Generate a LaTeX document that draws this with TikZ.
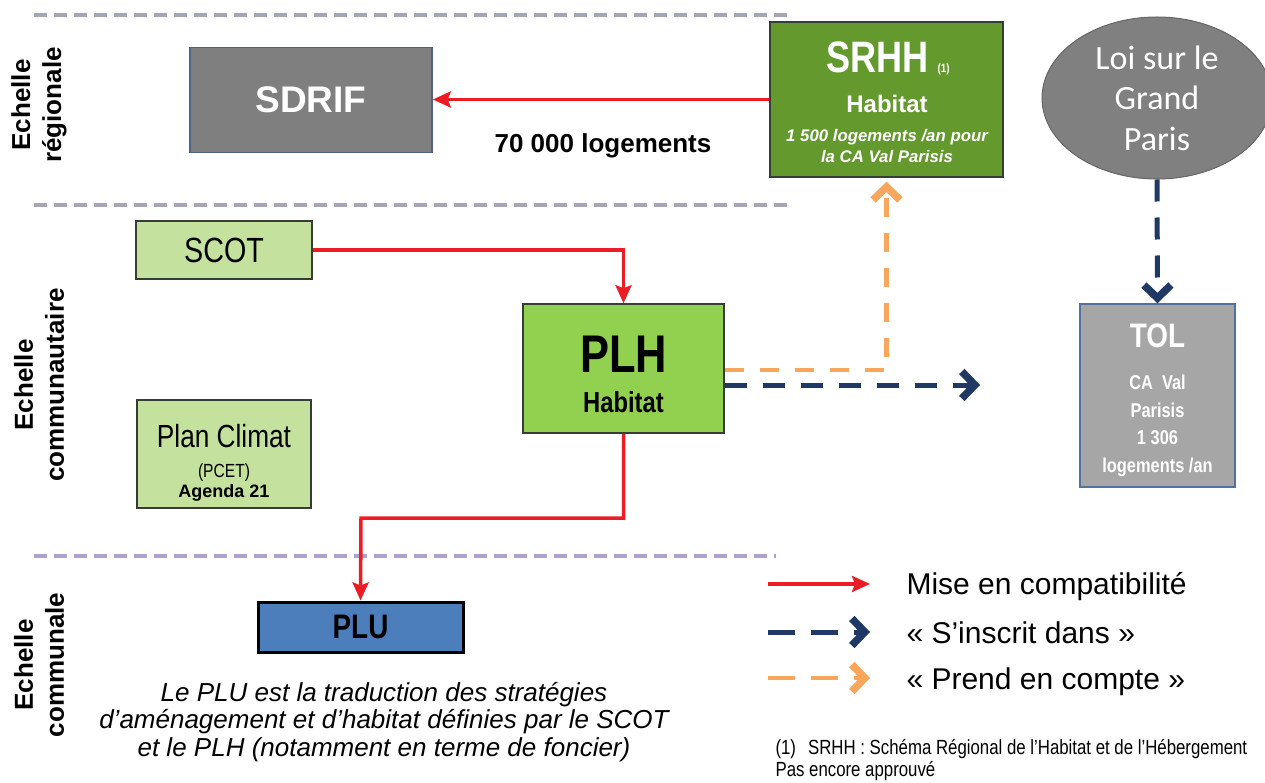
\documentclass[tikz,border=0pt]{standalone}
\usepackage{fontspec}
\setmainfont{Liberation Sans}
\newfontfamily\narrowsf{Liberation Sans}[FakeStretch=0.82]
\newfontfamily\calibrisf{Carlito}
\usepackage{xcolor}
\usetikzlibrary{arrows.meta,positioning,shapes.geometric}

\definecolor{sepgray}{RGB}{165,165,182}
\definecolor{seppurple}{RGB}{172,162,205}
\definecolor{sdrifgray}{RGB}{127,127,127}
\definecolor{sdrifline}{RGB}{82,98,130}
\definecolor{srhhgreen}{RGB}{99,153,45}
\definecolor{loigray}{RGB}{128,128,128}
\definecolor{tolgray}{RGB}{166,166,166}
\definecolor{tolline}{RGB}{82,112,160}
\definecolor{lightgreen}{RGB}{196,225,158}
\definecolor{plhgreen}{RGB}{146,208,80}
\definecolor{plublue}{RGB}{76,126,187}
\definecolor{boxline}{RGB}{55,60,55}
\definecolor{redarr}{RGB}{236,28,36}
\definecolor{navyarr}{RGB}{31,56,100}
\definecolor{orangearr}{RGB}{248,166,92}

\newcommand{\fsz}[1]{\fontsize{#1}{#1}\selectfont}

\begin{document}
\begin{tikzpicture}[
    x=1pt, y=-1pt,
    box/.style={draw=boxline, line width=1.5pt, inner sep=0pt, align=center},
    septline/.style={line width=3.5pt, dash pattern=on 13pt off 7pt},
    scalelbl/.style={rotate=90, align=center,
                     font=\bfseries\fontsize{26}{31}\selectfont},
    compat/.style={-{Stealth[length=18pt, width=16pt, inset=3pt]},
                   draw=redarr, line width=3.5pt},
    inscrit/.style={-{Straight Barb[length=13pt, width=27pt, line width=7.5pt]},
                    draw=navyarr, line width=5pt, dash pattern=on 22pt off 16pt},
    compte/.style={-{Straight Barb[length=13pt, width=27pt, line width=7.5pt]},
                   draw=orangearr, line width=4.5pt, dash pattern=on 19pt off 16pt},
]
\useasboundingbox (0,0) rectangle (1265,783);

%% ── Level separators ─────────────────────────────────────────────────────
\draw[septline, sepgray]   (34,15)  -- (790,15);
\draw[septline, sepgray]   (34,205) -- (790,205);
\draw[septline, seppurple] (34,556) -- (776,556);

%% ── Level labels ─────────────────────────────────────────────────────────
\node[scalelbl] (lvlreg) at (39,105) {Echelle\\régionale};
\node[scalelbl] (lvlcom) at (39,385) {Echelle\\communautaire};
\node[scalelbl] (lvlmun) at (39,665) {Echelle\\communale};

%% ── Regional level ───────────────────────────────────────────────────────
\node[box, fill=sdrifgray, draw=sdrifline, text=white,
      minimum width=242pt, minimum height=105pt,
      font=\bfseries\fsz{37}] (sdrif) at (311,100) {SDRIF};

\node[box, fill=srhhgreen, minimum width=233pt, minimum height=155pt]
      (srhh) at (886.5,99.5) {};
\node[anchor=base, text=white, font=\narrowsf\bfseries\fsz{44}]
      (srhhT) at (888,73) {SRHH\hspace{9pt}{\fsz{12}(1)}};
\node[anchor=base, text=white, font=\bfseries\fsz{24}]
      (srhhH) at (887,113) {Habitat};
\node[anchor=base, text=white, font=\bfseries\itshape\fsz{16.8}]
      (srhhL1) at (887,142) {1 500 logements /an pour};
\node[anchor=base, text=white, font=\bfseries\itshape\fsz{16.8}]
      (srhhL2) at (887,163) {la CA Val Parisis};

\node[ellipse, fill=loigray, draw=loigray!80!black, line width=1pt,
      minimum width=230pt, minimum height=162pt, inner sep=0pt,
      text=white, align=center,
      font=\calibrisf\fontsize{34}{40.5}\selectfont]
      (loi) at (1157,98) {Loi sur le\\Grand\\Paris};

\node[font=\bfseries\fsz{26}] (logt) at (603,146) {70 000 logements};

%% ── Intercommunal level ──────────────────────────────────────────────────
\node[box, fill=lightgreen, minimum width=176pt, minimum height=58pt,
      font=\narrowsf\fsz{35}] (scot) at (224,250) {SCOT};

\node[box, fill=plhgreen, minimum width=201pt, minimum height=129pt]
      (plh) at (623.5,368.5) {};
\node[anchor=base, font=\narrowsf\bfseries\fsz{53}] (plhT) at (623.5,372) {PLH};
\node[anchor=base, font=\narrowsf\bfseries\fsz{29}] (plhH) at (623.5,412) {Habitat};

\node[box, fill=lightgreen, minimum width=174pt, minimum height=108pt]
      (pcet) at (224,454) {};
\node[anchor=base, font=\narrowsf\fsz{32}] (pcetT) at (224,447) {Plan Climat};
\node[anchor=base, font=\narrowsf\fsz{19}] (pcetP) at (224,477) {(PCET)};
\node[anchor=base, font=\bfseries\fsz{18}] (pcetA) at (224,497) {Agenda 21};

\node[box, fill=tolgray, draw=tolline, minimum width=155pt, minimum height=183pt]
      (tol) at (1157.5,395.5) {};
\node[anchor=base, text=white, font=\narrowsf\bfseries\fsz{34}]
      (tolT) at (1157.5,347) {TOL};
\node[text=white, align=center, font=\narrowsf\bfseries\fontsize{20}{27.7}\selectfont]
      (tolL) at (1157.5,426) {CA\ \ Val\\Parisis\\1 306\\logements /an};

%% ── Municipal level ──────────────────────────────────────────────────────
\node[box, fill=plublue, draw=black, line width=3pt,
      minimum width=205pt, minimum height=50pt,
      font=\narrowsf\bfseries\fsz{34}] (plu) at (360.5,627) {PLU};

\node[align=center, font=\itshape\fontsize{26}{27.5}\selectfont]
      (plutxt) at (384,722)
      {Le PLU est la traduction des stratégies\\
       d’aménagement et d’habitat définies par le SCOT\\
       et le PLH (notamment en terme de foncier)};

%% ── Links ────────────────────────────────────────────────────────────────
\draw[compat] (srhh.west) -- (srhh.west -| sdrif.east);
\draw[compat] (scot.east) -| (plh.north);
\coordinate (pluturn) at (361,518);
\draw[compat] (plh.south) |- (pluturn) -- (plu.north);

\draw[compte] ([yshift=-1.5pt]plh.east) -| ([yshift=-4pt]srhh.south);
\coordinate (tolin) at (980,385);
\draw[inscrit] ([yshift=-16.5pt]plh.east) -- (tolin);
\draw[inscrit] (loi.south) -- (tol.north);

%% ── Legend ───────────────────────────────────────────────────────────────
\coordinate (lgA1) at (768,584);
\coordinate (lgA2) at (870,584);
\coordinate (lgB1) at (768,632);
\coordinate (lgB2) at (870,632);
\coordinate (lgC1) at (768,678);
\coordinate (lgC2) at (870,678);
\draw[compat] (lgA1) -- (lgA2);
\draw[inscrit, dash pattern=on 27pt off 16pt] (lgB1) -- (lgB2);
\draw[compte, dash pattern=on 27pt off 16pt] (lgC1) -- (lgC2);
\node[anchor=base west, font=\fsz{30}] (lgA) at (903,594) {Mise en compatibilité};
\node[anchor=base west, font=\fsz{30}] (lgB) at (903,643) {«~S’inscrit dans~»};
\node[anchor=base west, font=\fsz{30}] (lgC) at (903,689) {«~Prend en compte~»};

\node[anchor=base west, font=\narrowsf\fsz{20.5}] (note1) at (772,754)
      {(1)\hspace{12pt}SRHH : Schéma Régional de l’Habitat et de l’Hébergement};
\node[anchor=base west, font=\narrowsf\fsz{20.5}] (note2) at (772,776) {Pas encore approuvé};

\end{tikzpicture}
\end{document}
